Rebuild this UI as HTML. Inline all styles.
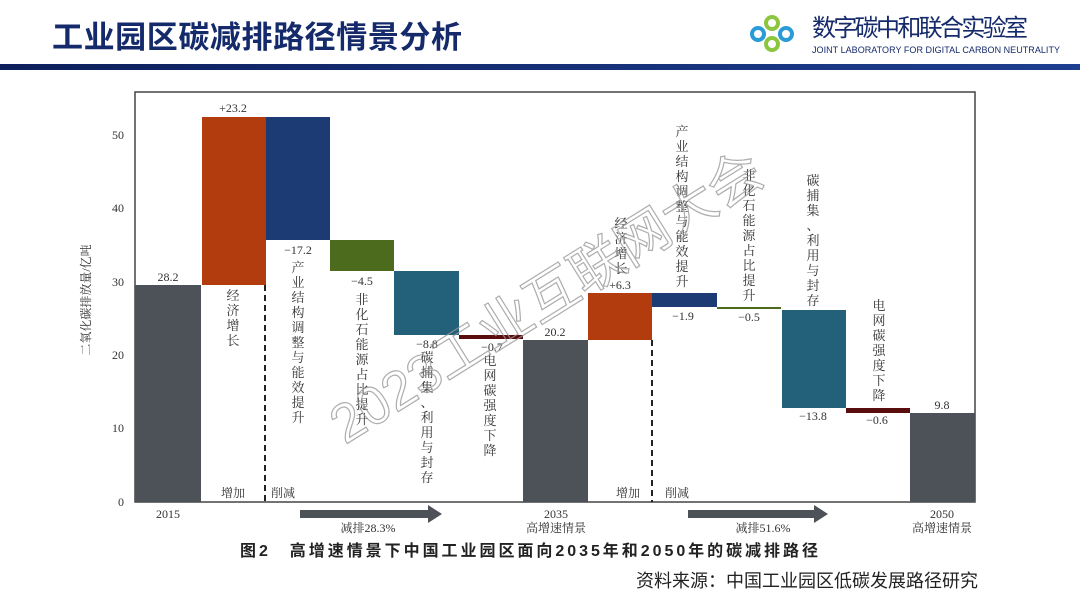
<!DOCTYPE html>
<html><head><meta charset="utf-8"><style>
body{margin:0;width:1080px;height:607px;background:#fff;overflow:hidden;font-family:"Liberation Serif","Noto Serif CJK SC",serif}
svg{position:absolute;left:0;top:0}
</style></head><body>
<svg width="1080" height="607" viewBox="0 0 1080 607" xmlns="http://www.w3.org/2000/svg">
<defs><linearGradient id="hl" x1="0" x2="1"><stop offset="0" stop-color="#0d1f5c"/><stop offset="1" stop-color="#1d3f8f"/></linearGradient></defs>
<text x="52" y="48" font-family="Liberation Sans,Noto Sans CJK SC,sans-serif" font-size="31" font-weight="bold" fill="#152a6b" textLength="410">工业园区碳减排路径情景分析</text>
<rect x="0" y="64" width="1080" height="6" fill="url(#hl)"/>
<g transform="translate(770,32)">
<circle cx="-12" cy="2" r="6" fill="none" stroke="#2a9bd7" stroke-width="4"/>
<circle cx="2" cy="-9" r="6" fill="none" stroke="#8cc63f" stroke-width="4"/>
<circle cx="2" cy="12" r="6" fill="none" stroke="#8cc63f" stroke-width="4"/>
<circle cx="16" cy="2" r="6" fill="none" stroke="#2a9bd7" stroke-width="4"/>
</g>
<text x="812" y="36" font-family="Liberation Sans,Noto Sans CJK SC,sans-serif" font-size="24" fill="#152a6b" textLength="216">数字碳中和联合实验室</text>
<text x="812" y="53" font-family="Liberation Sans,sans-serif" font-size="9" fill="#152a6b" textLength="248">JOINT LABORATORY FOR DIGITAL CARBON NEUTRALITY</text>

<rect x="135" y="92" width="840" height="410" fill="none" stroke="#444" stroke-width="1.5"/>
<g font-size="12" fill="#333" text-anchor="end">
<text x="124" y="139">50</text><text x="124" y="212">40</text><text x="124" y="286">30</text><text x="124" y="359">20</text><text x="124" y="432">10</text><text x="124" y="506">0</text>
</g>
<text transform="translate(90,300) rotate(-90)" font-size="12" fill="#333" text-anchor="middle">二氧化碳排放量/亿吨</text>

<rect x="135" y="285" width="66" height="217" fill="#4d5158"/>
<rect x="202" y="117" width="64" height="168" fill="#b23c0e"/>
<rect x="266" y="117" width="64" height="123" fill="#1c3a73"/>
<rect x="330" y="240" width="64" height="31" fill="#4c6b1d"/>
<rect x="394" y="271" width="65" height="64" fill="#23607a"/>
<rect x="459" y="335" width="64" height="4" fill="#5a0d0d"/>
<rect x="523" y="340" width="65" height="162" fill="#4d5158"/>
<rect x="588" y="293" width="64" height="47" fill="#b23c0e"/>
<rect x="652" y="293" width="65" height="14" fill="#1c3a73"/>
<rect x="717" y="307" width="64" height="2" fill="#4c6b1d"/>
<rect x="782" y="310" width="64" height="98" fill="#23607a"/>
<rect x="846" y="408" width="64" height="5" fill="#5a0d0d"/>
<rect x="910" y="413" width="65" height="89" fill="#4d5158"/>
<line x1="265" y1="285" x2="265" y2="502" stroke="#222" stroke-width="2" stroke-dasharray="6,4"/>
<line x1="652" y1="340" x2="652" y2="502" stroke="#222" stroke-width="2" stroke-dasharray="6,4"/>

<g font-size="12" fill="#333" text-anchor="middle">
<text x="168" y="281">28.2</text><text x="233" y="112">+23.2</text>
<text x="298" y="254">−17.2</text><text x="362" y="285">−4.5</text><text x="427" y="348">−8.8</text><text x="492" y="351">−0.7</text>
<text x="555" y="336">20.2</text><text x="620" y="289">+6.3</text><text x="683" y="320">−1.9</text><text x="749" y="321">−0.5</text>
<text x="813" y="420">−13.8</text><text x="877" y="424">−0.6</text><text x="942" y="409">9.8</text>
<text x="233" y="497">增加</text><text x="283" y="497">削减</text>
<text x="628" y="497">增加</text><text x="677" y="497">削减</text>
<text x="168" y="518">2015</text>
<text x="556" y="518">2035</text><text x="556" y="532">高增速情景</text>
<text x="942" y="518">2050</text><text x="942" y="532">高增速情景</text>
<text x="368" y="532">减排28.3%</text><text x="763" y="532">减排51.6%</text>
</g>
<g font-size="13" fill="#333" text-anchor="middle">
<text x="233" y="300"><tspan x="233" dy="0">经</tspan><tspan x="233" dy="15">济</tspan><tspan x="233" dy="15">增</tspan><tspan x="233" dy="15">长</tspan></text>
<text x="298" y="272"><tspan x="298" dy="0">产</tspan><tspan x="298" dy="15">业</tspan><tspan x="298" dy="15">结</tspan><tspan x="298" dy="15">构</tspan><tspan x="298" dy="15">调</tspan><tspan x="298" dy="15">整</tspan><tspan x="298" dy="15">与</tspan><tspan x="298" dy="15">能</tspan><tspan x="298" dy="15">效</tspan><tspan x="298" dy="15">提</tspan><tspan x="298" dy="15">升</tspan></text>
<text x="362" y="304"><tspan x="362" dy="0">非</tspan><tspan x="362" dy="15">化</tspan><tspan x="362" dy="15">石</tspan><tspan x="362" dy="15">能</tspan><tspan x="362" dy="15">源</tspan><tspan x="362" dy="15">占</tspan><tspan x="362" dy="15">比</tspan><tspan x="362" dy="15">提</tspan><tspan x="362" dy="15">升</tspan></text>
<text x="427" y="362"><tspan x="427" dy="0">碳</tspan><tspan x="427" dy="15">捕</tspan><tspan x="427" dy="15">集</tspan><tspan x="427" dy="15">、</tspan><tspan x="427" dy="15">利</tspan><tspan x="427" dy="15">用</tspan><tspan x="427" dy="15">与</tspan><tspan x="427" dy="15">封</tspan><tspan x="427" dy="15">存</tspan></text>
<text x="490" y="365"><tspan x="490" dy="0">电</tspan><tspan x="490" dy="15">网</tspan><tspan x="490" dy="15">碳</tspan><tspan x="490" dy="15">强</tspan><tspan x="490" dy="15">度</tspan><tspan x="490" dy="15">下</tspan><tspan x="490" dy="15">降</tspan></text>
<text x="621" y="228"><tspan x="621" dy="0">经</tspan><tspan x="621" dy="15">济</tspan><tspan x="621" dy="15">增</tspan><tspan x="621" dy="15">长</tspan></text>
<text x="682" y="136"><tspan x="682" dy="0">产</tspan><tspan x="682" dy="15">业</tspan><tspan x="682" dy="15">结</tspan><tspan x="682" dy="15">构</tspan><tspan x="682" dy="15">调</tspan><tspan x="682" dy="15">整</tspan><tspan x="682" dy="15">与</tspan><tspan x="682" dy="15">能</tspan><tspan x="682" dy="15">效</tspan><tspan x="682" dy="15">提</tspan><tspan x="682" dy="15">升</tspan></text>
<text x="749" y="180"><tspan x="749" dy="0">非</tspan><tspan x="749" dy="15">化</tspan><tspan x="749" dy="15">石</tspan><tspan x="749" dy="15">能</tspan><tspan x="749" dy="15">源</tspan><tspan x="749" dy="15">占</tspan><tspan x="749" dy="15">比</tspan><tspan x="749" dy="15">提</tspan><tspan x="749" dy="15">升</tspan></text>
<text x="813" y="185"><tspan x="813" dy="0">碳</tspan><tspan x="813" dy="15">捕</tspan><tspan x="813" dy="15">集</tspan><tspan x="813" dy="15">、</tspan><tspan x="813" dy="15">利</tspan><tspan x="813" dy="15">用</tspan><tspan x="813" dy="15">与</tspan><tspan x="813" dy="15">封</tspan><tspan x="813" dy="15">存</tspan></text>
<text x="879" y="310"><tspan x="879" dy="0">电</tspan><tspan x="879" dy="15">网</tspan><tspan x="879" dy="15">碳</tspan><tspan x="879" dy="15">强</tspan><tspan x="879" dy="15">度</tspan><tspan x="879" dy="15">下</tspan><tspan x="879" dy="15">降</tspan></text>
</g>
<g fill="#4d5158">
<rect x="300" y="510" width="128" height="8"/><polygon points="428,505 442,514 428,523"/>
<rect x="688" y="510" width="126" height="8"/><polygon points="814,505 828,514 814,523"/>
</g>
<text x="240" y="556" font-family="Liberation Sans,Noto Sans CJK SC,sans-serif" font-size="16" font-weight="bold" fill="#222" textLength="578">图2　高增速情景下中国工业园区面向2035年和2050年的碳减排路径</text>
<text x="978" y="587" text-anchor="end" font-family="Liberation Sans,Noto Sans CJK SC,sans-serif" font-size="18" fill="#222">资料来源：中国工业园区低碳发展路径研究</text>
<text transform="translate(345,445) rotate(-32)" font-family="Liberation Sans,Noto Sans CJK SC,sans-serif" font-size="54" fill="none" stroke="#999" stroke-width="1.2" opacity="0.8">2023工业互联网大会</text>
</svg>
</body></html>
